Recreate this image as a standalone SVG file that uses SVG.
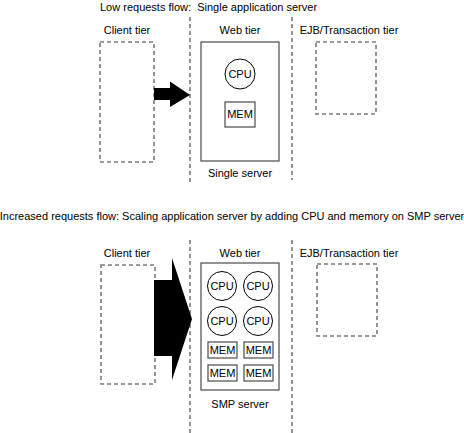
<svg xmlns="http://www.w3.org/2000/svg" width="464" height="433" viewBox="0 0 464 433">
<style>
text{font-family:"Liberation Sans",Arial,sans-serif;font-size:11px;fill:#000;text-anchor:middle}
.t{text-anchor:start;white-space:pre}
.dash{fill:none;stroke:#7a7a7a;stroke-width:1.6;stroke-dasharray:4 3}
.box{fill:#fff;stroke:#595959;stroke-width:1.3}
.cpu{fill:#fff;stroke:#000;stroke-width:1}
.mem{fill:#fff;stroke:#595959;stroke-width:1.3}
.arrow{fill:#000;stroke:none}
</style>
<rect width="464" height="433" fill="#fff"/>
<text class="t" x="100" y="11" xml:space="preserve">Low requests flow:  Single application server</text>
<text x="232" y="220">Increased requests flow: Scaling application server by adding CPU and memory on SMP server</text>
<g id="tier-dividers">
<line class="dash" x1="190" y1="17" x2="190" y2="184"/>
<line class="dash" x1="292" y1="17" x2="292" y2="180"/>
<line class="dash" x1="190" y1="240" x2="190" y2="433"/>
<line class="dash" x1="292" y1="240" x2="292" y2="433"/>
</g>
<g id="client-1"><text x="127" y="34">Client tier</text><rect class="dash" x="100" y="42" width="54" height="120"/></g>
<g id="web-1"><text x="240" y="34">Web tier</text><rect class="box" x="201" y="42" width="78" height="119"/><text x="240" y="177">Single server</text></g>
<g id="cpu-1"><circle class="cpu" cx="240" cy="74" r="15"/><text x="240" y="78">CPU</text></g>
<g id="mem-1"><rect class="mem" x="225" y="102" width="30" height="25"/><text x="240" y="118">MEM</text></g>
<g id="ejb-1"><text x="349" y="34">EJB/Transaction tier</text><rect class="dash" x="316" y="42" width="60" height="72"/></g>
<g id="client-2"><text x="127" y="257">Client tier</text><rect class="dash" x="101" y="265" width="54" height="119"/></g>
<g id="web-2"><text x="240" y="257">Web tier</text><rect class="box" x="201" y="263" width="78" height="127"/><text x="240" y="408">SMP server</text></g>
<g id="cpu-2a"><circle class="cpu" cx="222" cy="286" r="14.5"/><text x="222" y="290">CPU</text></g>
<g id="cpu-2b"><circle class="cpu" cx="258" cy="286" r="14.5"/><text x="258" y="290">CPU</text></g>
<g id="cpu-2c"><circle class="cpu" cx="222" cy="321" r="14.5"/><text x="222" y="325">CPU</text></g>
<g id="cpu-2d"><circle class="cpu" cx="258" cy="321" r="14.5"/><text x="258" y="325">CPU</text></g>
<g id="mem-2a"><rect class="mem" x="208" y="342" width="29" height="16"/><text x="222.5" y="354">MEM</text></g>
<g id="mem-2b"><rect class="mem" x="244" y="342" width="29" height="16"/><text x="258.5" y="354">MEM</text></g>
<g id="mem-2c"><rect class="mem" x="208" y="365" width="29" height="16"/><text x="222.5" y="377">MEM</text></g>
<g id="mem-2d"><rect class="mem" x="244" y="365" width="29" height="16"/><text x="258.5" y="377">MEM</text></g>
<g id="ejb-2"><text x="349" y="257">EJB/Transaction tier</text><rect class="dash" x="317" y="264" width="60" height="72"/></g>
<g id="connectors">
<polygon class="arrow" points="154,88 170,88 170,81.5 190,95 170,107 170,100 154,100"/>
<polygon class="arrow" points="154,280 172,280 172,258 192,319 172,380 172,356 154,356"/>
</g>
</svg>
